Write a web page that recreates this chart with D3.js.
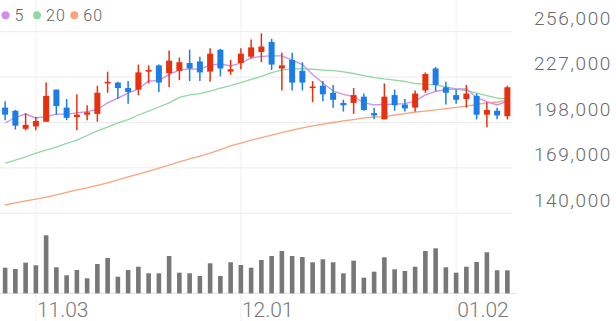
<html>
<head>
  <script src="https://d3js.org/d3.v7.min.js"></script>
  <style>
    body { margin: 0; background: #fff; }
    svg { display: block; font-family: Roboto, sans-serif; }
  </style>
</head>
<body>
  <svg id="chart" width="616" height="321"></svg>
  <script>
    // daily candles
    const opens = [207500, 205500, 194000, 195500, 198500, 219000, 207500, 201500, 203000, 203500,
      223000, 223500, 220000, 219000, 230500, 234500, 229500, 231000, 236000, 237000,
      230500, 244500, 230500, 236000, 240000, 243000, 249500, 232500, 238000, 231000,
      220000, 221500, 217000, 210500, 210500, 214500, 204000, 200000, 215500, 209500,
      207500, 218500, 232500, 220500, 215500, 213000, 215000, 203000, 205500, 202000];
    const highs = [211500, 206000, 204000, 201500, 223500, 219000, 213000, 216000, 209000, 221500,
      230500, 224000, 224500, 235000, 234500, 235000, 244000, 239500, 244500, 240000,
      245500, 245000, 238000, 245500, 251000, 255000, 251500, 242500, 242500, 236500,
      224500, 224500, 222000, 212500, 220000, 216500, 207500, 223000, 219000, 213000,
      218500, 230000, 233500, 224000, 219000, 222000, 216500, 211000, 207500, 221500];
    const lows = [199500, 193500, 193000, 193000, 198500, 203000, 199500, 193000, 199500, 198500,
      217000, 213000, 210000, 215500, 223000, 217500, 220500, 225000, 224500, 224500,
      224000, 227500, 228500, 232000, 239000, 236500, 231500, 218500, 218500, 218500,
      211000, 211500, 207500, 205000, 203500, 205500, 200000, 200000, 205500, 205000,
      205000, 217000, 218000, 209500, 210000, 207500, 200000, 195000, 200000, 200000];
    const closes = [203000, 196000, 196500, 199000, 215000, 208500, 201000, 203000, 204500, 217000,
      224000, 220000, 217500, 230000, 231500, 223500, 237500, 236500, 232500, 230000,
      242000, 232500, 232000, 242000, 246000, 246500, 235000, 234500, 223500, 223500,
      221000, 216000, 212500, 209000, 215500, 206000, 202500, 214500, 209000, 207000,
      216500, 229000, 222000, 217000, 212500, 216500, 203000, 206000, 202500, 220500];
    const volumes = [256000, 243000, 306000, 280000, 580000, 260000, 180000, 233000, 150000, 293000,
      353000, 166000, 233000, 266000, 200000, 200000, 373000, 206000, 200000, 173000,
      300000, 173000, 310000, 283000, 256000, 333000, 373000, 423000, 373000, 363000,
      310000, 340000, 310000, 200000, 326000, 156000, 216000, 360000, 240000, 223000,
      266000, 423000, 450000, 260000, 206000, 266000, 313000, 410000, 230000, 230000];

    // moving averages as drawn
    const ma5 = [197700, 201200, 203400, 200900, 201800, 203400, 203400, 204100, 205000, 206300,
      210500, 213600, 216800, 219400, 224500, 224800, 228700, 231500, 232200, 231900,
      234700, 235400, 234100, 236000, 239200, 240200, 240500, 240500, 237900, 235000,
      228700, 223200, 218100, 215900, 214600, 210500, 209200, 209500, 209800, 210100,
      211700, 215600, 217800, 219100, 219400, 219400, 214000, 211400, 209200, 211700];
    const ma20 = [172100, 174000, 176000, 178500, 180400, 182300, 184600, 186800, 189700, 192600,
      195100, 197700, 199900, 202800, 205300, 207900, 210500, 214000, 215600, 216500,
      218100, 220000, 221600, 223500, 225500, 227400, 229900, 231500, 232400, 232200,
      232000, 231500, 231100, 230300, 229300, 228000, 226700, 225800, 225100, 224200,
      222900, 222400, 222100, 220700, 219400, 218400, 216800, 215200, 213600, 213000];
    const ma60 = [145300, 146600, 147900, 149100, 150400, 151700, 153300, 154900, 156200, 157800,
      159400, 161300, 163200, 165100, 167000, 168900, 170800, 172800, 174700, 176600,
      178500, 180700, 183000, 184900, 186800, 188400, 190000, 191600, 193200, 194500,
      195800, 197000, 198000, 199000, 199900, 200900, 201500, 201800, 202800, 203700,
      204700, 205300, 206000, 206900, 207600, 208500, 209500, 210500, 211100, 212100];

    const priceTicks = [140000, 169000, 198000, 227000, 256000];
    const dateTickIdx = [3, 23, 44];
    const dateTickLabels = ["11.03", "12.01", "01.02"];
    const maNames = ["5", "20", "60"];

    const upColor = "#e8300e";
    const downColor = "#1b7de6";
    const maColors = ["#cf8ded", "#8fd9a2", "#f9a47c"];

    let svg = d3.select("#chart");

    let x = d3.scaleBand()
      .domain(d3.range(opens.length))
      .range([0, 512.5]);
    let cx = i => x(i) + x.bandwidth() / 2;

    let y = d3.scaleLinear()
      .domain([140000, 256000])
      .range([213.3, 31.7]);

    let yVol = d3.scaleLinear()
      .domain([0, 580000])
      .range([293.3, 235.3]);

    // grid
    svg.append("g")
      .selectAll("line")
      .data(priceTicks)
      .join("line")
      .attr("x1", 0)
      .attr("x2", 512)
      .attr("y1", d => y(d))
      .attr("y2", d => y(d))
      .style("stroke", "#ececec")
      .style("stroke-width", 1);

    svg.append("g")
      .selectAll("line")
      .data(dateTickIdx)
      .join("line")
      .attr("x1", d => cx(d))
      .attr("x2", d => cx(d))
      .attr("y1", 0)
      .attr("y2", 321)
      .style("stroke", "#f0f0f0")
      .style("stroke-width", 1);

    // volume baseline
    svg.append("line")
      .attr("x1", 0)
      .attr("x2", 516)
      .attr("y1", yVol(0))
      .attr("y2", yVol(0))
      .style("stroke", "#dedede")
      .style("stroke-width", 1);

    // price labels
    svg.append("g")
      .selectAll("text")
      .data(priceTicks)
      .join("text")
      .attr("x", 612)
      .attr("y", d => y(d) - 6.7)
      .attr("text-anchor", "end")
      .style("font-size", "19px")
      .style("font-weight", 300)
      .style("letter-spacing", "1.6px")
      .style("fill", "#6a6a6a")
      .text(d => d3.format(",")(d));

    // date labels
    svg.append("g")
      .selectAll("text")
      .data(dateTickIdx)
      .join("text")
      .attr("x", d => cx(d) + 1)
      .attr("y", 316.5)
      .style("font-size", "21px")
      .style("font-weight", 300)
      .style("fill", "#777")
      .text((d, i) => dateTickLabels[i]);

    // volume bars
    svg.append("g")
      .selectAll("rect")
      .data(volumes)
      .join("rect")
      .attr("x", (d, i) => cx(i) - 2.3)
      .attr("width", 4.6)
      .attr("y", d => yVol(d))
      .attr("height", d => yVol(0) - yVol(d))
      .style("fill", "#777");

    // moving average lines
    [ma60, ma20, ma5].forEach((series, k) => {
      let line = d3.line()
        .x((d, i) => cx(i))
        .y(d => y(d));
      svg.append("path")
        .datum(series)
        .attr("d", line)
        .style("fill", "none")
        .style("stroke", maColors[2 - k])
        .style("stroke-width", 1.3);
    });

    // candles
    let candles = svg.append("g")
      .selectAll("g")
      .data(d3.range(opens.length))
      .join("g");

    candles.append("line")
      .attr("x1", i => cx(i))
      .attr("x2", i => cx(i))
      .attr("y1", i => y(highs[i]))
      .attr("y2", i => y(lows[i]))
      .style("stroke", i => closes[i] >= opens[i] ? upColor : downColor)
      .style("stroke-width", 1.5);

    candles.append("rect")
      .attr("x", i => cx(i) - 3)
      .attr("width", 6)
      .attr("y", i => y(Math.max(opens[i], closes[i])))
      .attr("height", i => Math.max(1.6, Math.abs(y(opens[i]) - y(closes[i]))))
      .style("fill", i => closes[i] >= opens[i] ? upColor : downColor);

    // legend
    let legend = svg.append("g");
    let legendX = [5.5, 37, 74.3];
    maNames.forEach((name, k) => {
      legend.append("circle")
        .attr("cx", legendX[k])
        .attr("cy", 15.2)
        .attr("r", 4)
        .style("fill", maColors[k]);
      legend.append("text")
        .attr("x", legendX[k] + 9)
        .attr("y", 20.8)
        .style("font-size", "16px")
        .style("font-weight", 300)
        .style("letter-spacing", "1px")
        .style("fill", "#5f5f5f")
        .text(name);
    });
  </script>
</body>
</html>
